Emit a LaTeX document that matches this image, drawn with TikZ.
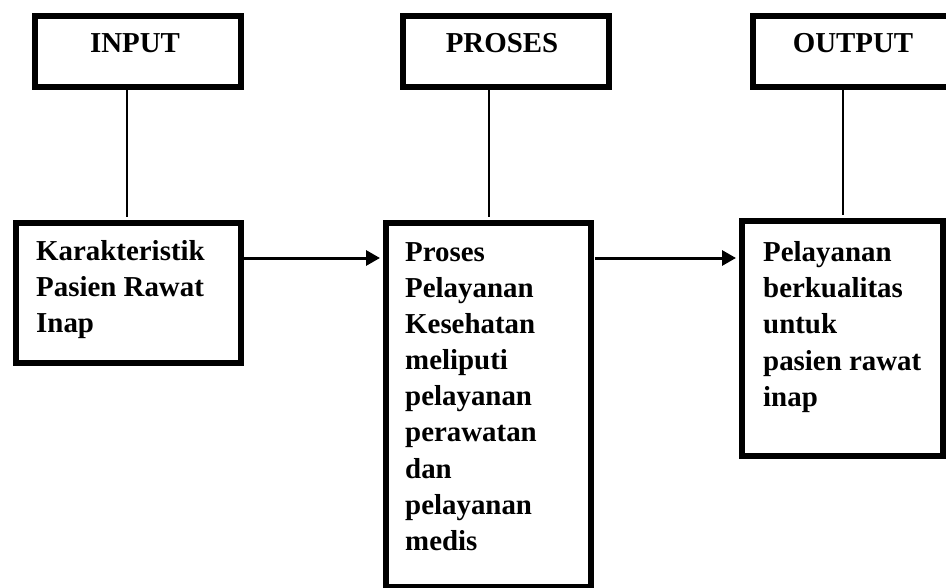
\documentclass[tikz,border=0pt]{standalone}
\usepackage{fontspec}
\setmainfont{Liberation Serif}
\usetikzlibrary{arrows.meta}
\begin{document}
\begin{tikzpicture}[x=1bp,y=-1bp,
  box/.style={draw=black,line width=6bp,fill=white,inner sep=0pt,anchor=north west},
  lbl/.style={inner sep=0pt,font=\bfseries\fontsize{29}{36.3}\selectfont},
  body/.style={lbl,align=left,anchor=base west},
  link/.style={line width=2.2bp},
  flow/.style={line width=3bp,-{Triangle[length=14bp,width=15bp]}}]
\useasboundingbox (0,0) rectangle (946,588);
\clip (0,0) rectangle (946,588);
\fill[white] (0,0) rectangle (946,588);
% header boxes
\node[box,minimum width=206bp,minimum height=71bp] (hin) at (32,13) {};
\node[box,minimum width=206bp,minimum height=71bp] (hpr) at (400,13) {};
\node[box,minimum width=199bp,minimum height=71bp] (hout) at (750,13) {};
\node[lbl,anchor=base] (tin) at (135,53) {INPUT};
\node[lbl,anchor=base] (tpr) at (502,53) {PROSES};
\node[lbl,anchor=base] (tout) at (853,53) {OUTPUT};
% main boxes
\node[box,minimum width=225bp,minimum height=140bp] (bin) at (13,220) {};
\node[box,minimum width=205bp,minimum height=364bp] (bpr) at (383,220) {};
\node[box,minimum width=201bp,minimum height=235bp] (bout) at (739,218) {};
% base anchor = baseline of last line
\node[body] (xin) at (36,332.6) {Karakteristik\\Pasien Rawat\\Inap};
\node[body] (xpr) at (405,550.4) {Proses\\Pelayanan\\Kesehatan\\meliputi\\pelayanan\\perawatan\\dan\\pelayanan\\medis};
\node[body] (xout) at (763,406.2) {Pelayanan\\berkualitas\\untuk\\pasien rawat\\inap};
% links
\coordinate (a1) at (127,87); \coordinate (a2) at (127,217);
\coordinate (b1) at (489,87); \coordinate (b2) at (489,217);
\coordinate (c1) at (843,87); \coordinate (c2) at (843,215);
\draw[link] (a1) -- (a2);
\draw[link] (b1) -- (b2);
\draw[link] (c1) -- (c2);
\coordinate (p1) at (241,258); \coordinate (p2) at (380,258);
\coordinate (q1) at (595,258); \coordinate (q2) at (736,258);
\draw[flow] (p1) -- (p2);
\draw[flow] (q1) -- (q2);
\end{tikzpicture}
\end{document}
